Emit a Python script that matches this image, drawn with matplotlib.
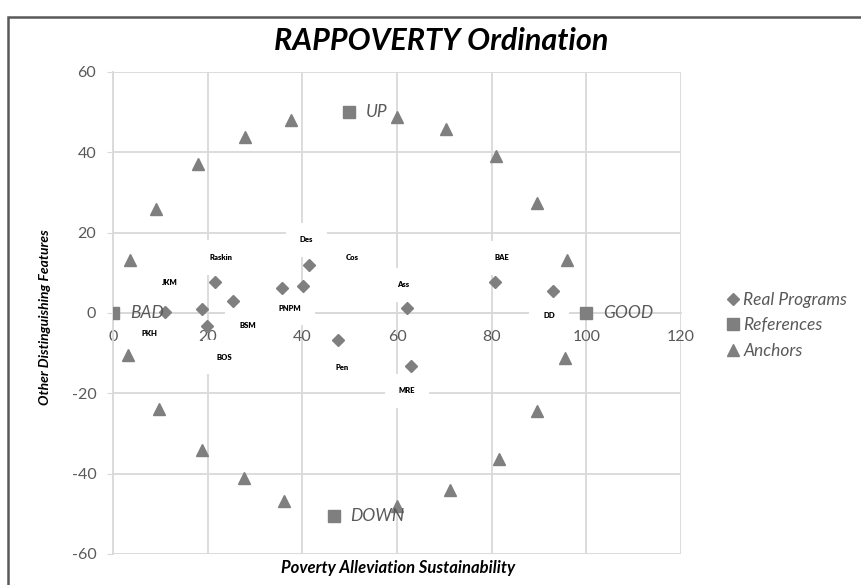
import matplotlib
matplotlib.use('Agg')
import matplotlib.pyplot as plt
from matplotlib.patches import Rectangle

plt.rcParams['font.family'] = ['Lato', 'DejaVu Sans']
plt.rcParams['axes.unicode_minus'] = False

# ===== data =====
# real programs (diamonds)
prog_x = [11.0, 18.9, 19.9, 21.5, 25.3, 35.7, 40.1, 41.5, 47.5, 62.0, 62.9, 80.6, 92.9]
prog_y = [0.3, 1.0, -3.2, 7.6, 3.1, 6.2, 6.8, 11.9, -6.8, 1.3, -13.2, 7.6, 5.5]

# program labels and where they sit
prog_names = ['Des', 'Raskin', 'Cos', 'JKM', 'PNPM', 'BSM', 'PKH', 'BOS',
              'Pen', 'Ass', 'BAE', 'DD', 'MRE']
name_x = [40.8, 22.9, 50.5, 12.0, 37.3, 28.4, 7.8, 23.6, 48.4, 61.3, 82.1, 92.1, 62.0]
name_y = [18.2, 13.8, 13.7, 7.5, 1.2, -3.0, -5.0, -11.0, -13.5, 7.0, 13.7, -0.7, -19.4]

# references (squares)
ref_names = ['BAD', 'GOOD', 'UP', 'DOWN']
ref_x = [0, 100, 49.9, 46.6]
ref_y = [0, 0, 50.0, -50.5]

# anchors (triangles)
anc_x = [3.6, 9.1, 18.0, 27.8, 37.7, 60.0, 70.3, 80.9, 89.6, 96.0,
         95.4, 89.5, 81.6, 71.2, 59.9, 36.1, 27.6, 18.7, 9.7, 3.2]
anc_y = [13.2, 25.9, 37.2, 43.8, 48.1, 48.8, 45.8, 39.0, 27.3, 13.2,
         -11.2, -24.3, -36.3, -44.1, -48.1, -46.8, -41.2, -34.2, -24.0, -10.5]

GRAY = '#7f7f7f'
TXT = '#595959'
GRID = '#d9d9d9'

fig = plt.figure(figsize=(8.62, 5.85), dpi=100)
ax = fig.add_axes([0.1311, 0.053, 0.659, 0.824])

# 数据标签（白底）
for n, lx, ly in zip(prog_names, name_x, name_y):
    ax.text(lx, ly, n, fontsize=5.5, fontweight='heavy', color='black',
            ha='center', va='center', zorder=3,
            bbox=dict(boxstyle='square,pad=1.8', fc='white', ec='none'))

ax.plot(prog_x, prog_y, 'D', color=GRAY, ms=6.5, ls='none', zorder=4, label='Real Programs')
ax.plot(ref_x, ref_y, 's', color=GRAY, ms=8, ls='none', zorder=4, label='References')
ax.plot(anc_x, anc_y, '^', color=GRAY, ms=8.5, ls='none', zorder=4, label='Anchors')

for n, rx, ry in zip(ref_names, ref_x, ref_y):
    ax.annotate(n, (rx, ry), xytext=(12, 0), textcoords='offset points',
                fontsize=12.5, style='italic', color=TXT, va='center', ha='left', zorder=5)

ax.set_xlim(0, 120)
ax.set_ylim(-60, 60)
ax.set_xticks(range(0, 121, 20))
ax.set_yticks(range(-60, 61, 20))
ax.grid(True, color=GRID, lw=1.3, zorder=0)
ax.set_axisbelow(True)

ax.spines['top'].set_visible(False)
ax.spines['right'].set_visible(False)
ax.spines['left'].set_color(GRID)
ax.spines['left'].set_linewidth(1.3)
ax.spines['bottom'].set_position(('data', 0))
ax.spines['bottom'].set_color(GRID)
ax.spines['bottom'].set_linewidth(1.3)
ax.tick_params(axis='x', length=0, pad=12, labelsize=11.5, labelcolor=TXT)
ax.tick_params(axis='y', length=4, color=GRID, pad=8, labelsize=11.5, labelcolor=TXT)

fig.text(0.512, 0.930, 'RAPPOVERTY Ordination', fontsize=22, fontweight='bold',
         style='italic', ha='center', va='center')
fig.text(0.462, 0.029, 'Poverty Alleviation Sustainability', fontsize=12,
         fontweight='bold', style='italic', ha='center', va='center')
fig.text(0.052, 0.458, 'Other Distinguishing Features', fontsize=10,
         fontweight='bold', style='italic', ha='center', va='center', rotation=90)

leg = ax.legend(loc='center left', bbox_to_anchor=(0.826, 0.444),
                bbox_transform=fig.transFigure, frameon=False, fontsize=12.5,
                handlelength=0.6, handletextpad=0.3, labelspacing=0.55)
for t in leg.get_texts():
    t.set_color(TXT)
    t.set_style('italic')

# 外框
fig.patches.append(Rectangle((8 / 862, -0.1), 1.2, 0.1 + 568 / 585,
                             transform=fig.transFigure, fill=False,
                             ec='#595959', lw=1.8, figure=fig))

fig.savefig('out.png', dpi=100)
